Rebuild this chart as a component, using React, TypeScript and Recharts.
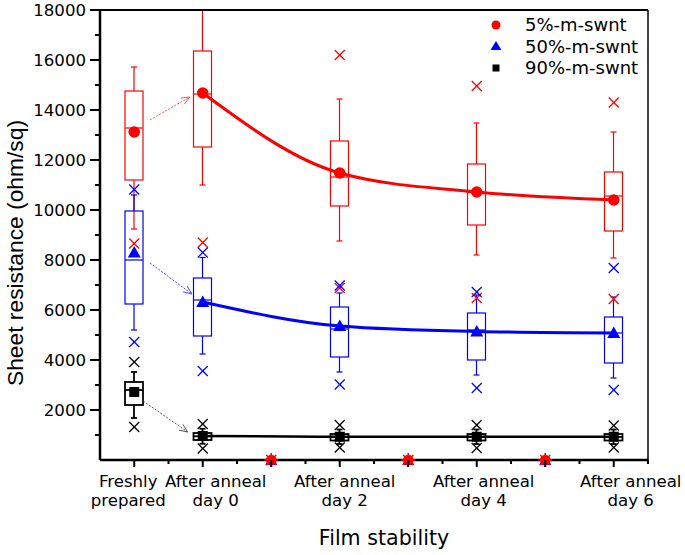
import React from "react";
import { ComposedChart, Bar, Line, Scatter, XAxis, YAxis, Legend, ReferenceLine } from "recharts";

const FONT = "'DejaVu Sans', Verdana, sans-serif";

const categories = [
  "Freshly\nprepared",
  "After anneal\nday 0",
  "",
  "After anneal\nday 2",
  "",
  "After anneal\nday 4",
  "",
  "After anneal\nday 6",
];
// the original labels sit a little off their ticks
const labelShift = [-6, 13, 0, 5, 0, 7, 0, 17];

// [whisker low, q1, median, q3, whisker high] per category, null = no data
const box5 = [
  [9240, 11200, 13280, 14760, 15720],
  [11000, 12520, 14640, 16360, 18000],
  null,
  [8760, 10160, 11320, 12760, 14440],
  null,
  [8200, 9400, 10700, 11840, 13480],
  null,
  [8080, 9160, 10560, 11520, 13120],
];
const box50 = [
  [5200, 6240, 8000, 9960, 10600],
  [4240, 4960, 6400, 7280, 8100],
  null,
  [3520, 4120, 5240, 6120, 6680],
  null,
  [3400, 4000, 5200, 5880, 6600],
  null,
  [3280, 3880, 5080, 5720, 6520],
];
const box90 = [
  [1680, 2200, 2800, 3120, 3520],
  [650, 800, 950, 1080, 1250],
  null,
  [640, 780, 920, 1040, 1220],
  null,
  [640, 780, 920, 1040, 1220],
  null,
  [640, 780, 920, 1040, 1220],
];

const mean5 = [13120, 14680, null, 11480, null, 10720, null, 10400];
const mean50 = [8300, 6320, null, 5360, null, 5140, null, 5080];
const mean90 = [2720, 960, null, 930, null, 930, null, 930];

const cross5 = [[8660], [8700], [], [16200, 6880], [], [14960, 6480], [], [14300, 6440]];
const cross50 = [[10820, 4720], [8300, 3560], [], [6980, 3020], [], [6720, 2880], [], [7680, 2800]];
const cross90 = [[3920, 1320], [1440, 460], [], [1400, 500], [], [1400, 480], [], [1380, 500]];

const emptyDays = [2, 4, 6];

// dotted arrows from the fresh films to day 0: [x1, y1, x2, y2]
const arrow5 = [0.23, 13600, 0.81, 14520];
const arrow50 = [0.23, 7880, 0.84, 6640];
const arrow90 = [0.13, 2360, 0.78, 1120];

const xTicks = [0, 0.5, 1, 1.5, 2, 2.5, 3, 3.5, 4, 4.5, 5, 5.5, 6, 6.5, 7, 7.5];
const yTicks = [0, 1000, 2000, 3000, 4000, 5000, 6000, 7000, 8000, 9000, 10000, 11000, 12000, 13000, 14000, 15000, 16000, 17000, 18000];

const RED = "#ff0000";
const BLUE = "#0000ff";
const BLACK = "#000000";

const rows = categories.map((c, i) => ({
  cat: `c${i}`,
  r5: box5[i] ? [box5[i]![0], box5[i]![4]] : null,
  r50: box50[i] ? [box50[i]![0], box50[i]![4]] : null,
  r90: box90[i] ? [box90[i]![0], box90[i]![4]] : null,
  s5: box5[i],
  s50: box50[i],
  s90: box90[i],
}));

const pts = (arr: (number | null)[], from = 0) =>
  arr.flatMap((v, i) => (v == null || i < from ? [] : [{ x: i, y: v }]));
const crossPts = (arr: number[][]) => arr.flatMap((vs, i) => vs.map((v) => ({ x: i, y: v })));

function boxShape(key: string, color: string, lw: number) {
  return (p: any) => {
    const s = p.payload && p.payload[key];
    if (!s) return <g />;
    const [lo, q1, med, q3, hi] = s;
    const top = Math.min(p.y, p.y + p.height);
    const bot = Math.max(p.y, p.y + p.height);
    const py = (v: number) => top + ((hi - v) / (hi - lo)) * (bot - top);
    const cx = p.x + p.width / 2;
    const l = p.x;
    const r = p.x + p.width;
    return (
      <g stroke={color} strokeWidth={lw} fill="none">
        <line x1={cx} x2={cx} y1={py(hi)} y2={py(q3)} />
        <line x1={cx} x2={cx} y1={py(q1)} y2={py(lo)} />
        <line x1={cx - 3} x2={cx + 3} y1={py(hi)} y2={py(hi)} />
        <line x1={cx - 3} x2={cx + 3} y1={py(lo)} y2={py(lo)} />
        <rect x={l} y={py(q3)} width={r - l} height={py(q1) - py(q3)} />
        <line x1={l} x2={r} y1={py(med)} y2={py(med)} />
      </g>
    );
  };
}

const crossShape = (color: string) => (p: any) => (
  <g stroke={color} strokeWidth={1.2}>
    <line x1={p.cx - 5} x2={p.cx + 5} y1={p.cy - 5} y2={p.cy + 5} />
    <line x1={p.cx - 5} x2={p.cx + 5} y1={p.cy + 5} y2={p.cy - 5} />
  </g>
);

const circleShape = (p: any) => <circle cx={p.cx} cy={p.cy} r={5.8} fill={RED} />;
const triShape = (p: any) => (
  <polygon points={`${p.cx},${p.cy - 6.5} ${p.cx - 6.5},${p.cy + 5} ${p.cx + 6.5},${p.cy + 5}`} fill={BLUE} />
);
const squareShape = (p: any) => <rect x={p.cx - 5} y={p.cy - 5} width={10} height={10} fill={BLACK} />;

const emptyShape = (p: any) => (
  <g>
    <polygon points={`${p.cx},${p.cy - 6} ${p.cx - 6},${p.cy + 5} ${p.cx + 6},${p.cy + 5}`} fill={BLUE} />
    <circle cx={p.cx} cy={p.cy} r={5.3} fill={RED} />
    <g stroke={RED} strokeWidth={1.6}>
      <line x1={p.cx - 7} x2={p.cx + 7} y1={p.cy} y2={p.cy} />
      <line x1={p.cx} x2={p.cx} y1={p.cy - 7} y2={p.cy + 7} />
      <line x1={p.cx - 5} x2={p.cx + 5} y1={p.cy - 5} y2={p.cy + 5} />
      <line x1={p.cx - 5} x2={p.cx + 5} y1={p.cy + 5} y2={p.cy - 5} />
    </g>
    <line x1={p.cx} x2={p.cx} y1={p.cy} y2={p.cy + 7} stroke="#000" strokeWidth={1.5} />
  </g>
);

const arrowShape = (color: string) => (p: any) => {
  const { x1, y1, x2, y2 } = p;
  const a = Math.atan2(y2 - y1, x2 - x1);
  const h = 9;
  const ax1 = x2 - h * Math.cos(a - 0.4);
  const ay1 = y2 - h * Math.sin(a - 0.4);
  const ax2 = x2 - h * Math.cos(a + 0.4);
  const ay2 = y2 - h * Math.sin(a + 0.4);
  return (
    <g stroke={color} strokeWidth={0.9} fill="none">
      <line x1={x1} y1={y1} x2={x2} y2={y2} strokeDasharray="2 1.5" />
      <polyline points={`${ax1},${ay1} ${x2},${y2} ${ax2},${ay2}`} />
    </g>
  );
};

const XTick = (p: any) => {
  const v = p.payload.value;
  const major = Number.isInteger(v);
  const lines = major ? categories[v].split("\n").filter((s) => s) : [];
  const tx = p.x + (major ? labelShift[v] : 0);
  return (
    <g>
      <line x1={p.x} x2={p.x} y1={p.y - 10} y2={p.y - 10 + (major ? 7 : 4)} stroke="#000" strokeWidth={2} />
      {lines.length > 0 && (
        <text x={tx} y={p.y} textAnchor="middle" fontFamily={FONT} fontSize={16.6} fill="#000">
          {lines.map((s, i) => (
            <tspan key={i} x={tx} dy={i === 0 ? 17 : 18.5}>
              {s}
            </tspan>
          ))}
        </text>
      )}
    </g>
  );
};

const YTick = (p: any) => {
  const v = p.payload.value;
  if (v <= 0) return <g />;
  const major = v % 2000 === 0;
  return (
    <g>
      <line x1={p.x + (major ? 5 : 10)} x2={p.x + 15} y1={p.y} y2={p.y} stroke="#000" strokeWidth={2} />
      {major && (
        <text x={p.x + 1} y={p.y} dy="0.36em" textAnchor="end" fontFamily={FONT} fontSize={16.6} fill="#000">
          {v}
        </text>
      )}
    </g>
  );
};

const legendItems = [
  { name: "5%-m-swnt", mark: "circle", color: RED },
  { name: "50%-m-swnt", mark: "tri", color: BLUE },
  { name: "90%-m-swnt", mark: "square", color: BLACK },
];

const renderLegend = () => (
  <div style={{ fontFamily: FONT, fontSize: 18, color: "#000" }}>
    {legendItems.map((it) => (
      <div key={it.name} style={{ display: "flex", alignItems: "center", height: 21.5 }}>
        <svg width={16} height={16}>
          {it.mark === "circle" && <circle cx={8} cy={8} r={4.5} fill={it.color} />}
          {it.mark === "tri" && <polygon points="8,3 2.5,12 13.5,12" fill={it.color} />}
          {it.mark === "square" && <rect x={4.5} y={4.5} width={7} height={7} fill={it.color} />}
        </svg>
        <span style={{ marginLeft: 21, lineHeight: "21.5px" }}>{it.name}</span>
      </div>
    ))}
  </div>
);

export default function App() {
  return (
    <div style={{ position: "absolute", left: 0, top: 0, background: "#fff" }}>
      <ComposedChart
        width={685}
        height={555}
        data={rows}
        barGap={-18}
        margin={{ top: 10, right: 37, bottom: 0, left: 0 }}
      >
        <XAxis xAxisId="num"
          dataKey="x"
          type="number"
          domain={[-0.5, 7.5]}
          ticks={xTicks}
          interval={0}
          height={95}
          tickSize={8}
          tickMargin={2}
          tickLine={false}
          tick={<XTick />}
          axisLine={{ stroke: "#000", strokeWidth: 2.5 }}
          label={{
            content: (lp: any) => (
              <text
                x={lp.viewBox.x + lp.viewBox.width / 2 + 10}
                y={545}
                textAnchor="middle"
                fontFamily={FONT}
                fontSize={20.6}
                fill="#000"
              >
                Film stability
              </text>
            ),
          }}
        />
        <XAxis xAxisId="cat" dataKey="cat" type="category" hide height={0} />
        <YAxis
          type="number"
          domain={[0, 18000]}
          ticks={yTicks}
          interval={0}
          width={100}
          tickSize={10}
          tickMargin={5}
          tickLine={false}
          tick={<YTick />}
          axisLine={{ stroke: "#000", strokeWidth: 2.5 }}
          label={{
            content: (lp: any) => {
              const cx = lp.viewBox.x + 15;
              const cy = lp.viewBox.y + lp.viewBox.height / 2 + 18;
              return (
                <text
                  x={cx}
                  y={cy}
                  dy="0.36em"
                  textAnchor="middle"
                  transform={`rotate(-90 ${cx} ${cy})`}
                  fontFamily="'Liberation Sans', Arial, sans-serif"
                  fontSize={22.8}
                  fill="#000"
                >
                  Sheet resistance (ohm/sq)
                </text>
              );
            },
          }}
        />
        <ReferenceLine y={18000} xAxisId="num" stroke="#000" strokeWidth={2} />
        <ReferenceLine x={7.5} xAxisId="num" stroke="#000" strokeWidth={1.5} />

        <Bar xAxisId="cat" dataKey="r5" barSize={18} shape={boxShape("s5", RED, 1.2)} isAnimationActive={false} />
        <Bar xAxisId="cat" dataKey="r50" barSize={18} shape={boxShape("s50", BLUE, 1.2)} isAnimationActive={false} />
        <Bar xAxisId="cat" dataKey="r90" barSize={18} shape={boxShape("s90", BLACK, 1.8)} isAnimationActive={false} />

        <ReferenceLine xAxisId="num" segment={[{ x: arrow5[0], y: arrow5[1] }, { x: arrow5[2], y: arrow5[3] }]} shape={arrowShape("#ff4040")} />
        <ReferenceLine xAxisId="num" segment={[{ x: arrow50[0], y: arrow50[1] }, { x: arrow50[2], y: arrow50[3] }]} shape={arrowShape("#3030ff")} />
        <ReferenceLine xAxisId="num" segment={[{ x: arrow90[0], y: arrow90[1] }, { x: arrow90[2], y: arrow90[3] }]} shape={arrowShape("#444")} />

        <Line xAxisId="num" data={pts(mean5, 1)} dataKey="y" type="monotone" stroke={RED} strokeWidth={3} dot={false} isAnimationActive={false} />
        <Line xAxisId="num" data={pts(mean50, 1)} dataKey="y" type="monotone" stroke={BLUE} strokeWidth={3} dot={false} isAnimationActive={false} />
        <Line xAxisId="num" data={pts(mean90, 1)} dataKey="y" type="monotone" stroke={BLACK} strokeWidth={2.5} dot={false} isAnimationActive={false} />

        <Scatter xAxisId="num" data={crossPts(cross5)} dataKey="y" shape={crossShape(RED)} isAnimationActive={false} />
        <Scatter xAxisId="num" data={crossPts(cross50)} dataKey="y" shape={crossShape(BLUE)} isAnimationActive={false} />
        <Scatter xAxisId="num" data={crossPts(cross90)} dataKey="y" shape={crossShape(BLACK)} isAnimationActive={false} />

        <Scatter xAxisId="num" data={pts(mean5)} dataKey="y" shape={circleShape} isAnimationActive={false} />
        <Scatter xAxisId="num" data={pts(mean50)} dataKey="y" shape={triShape} isAnimationActive={false} />
        <Scatter xAxisId="num" data={pts(mean90)} dataKey="y" shape={squareShape} isAnimationActive={false} />

        <Scatter xAxisId="num" data={emptyDays.map((d) => ({ x: d, y: 0 }))} dataKey="y" shape={emptyShape} isAnimationActive={false} />

        <Legend
          content={renderLegend}
          layout="horizontal"
          verticalAlign="middle"
          align="center"
          wrapperStyle={{ position: "absolute", top: 14, left: 488, width: "auto", height: "auto" }}
        />
      </ComposedChart>
    </div>
  );
}
